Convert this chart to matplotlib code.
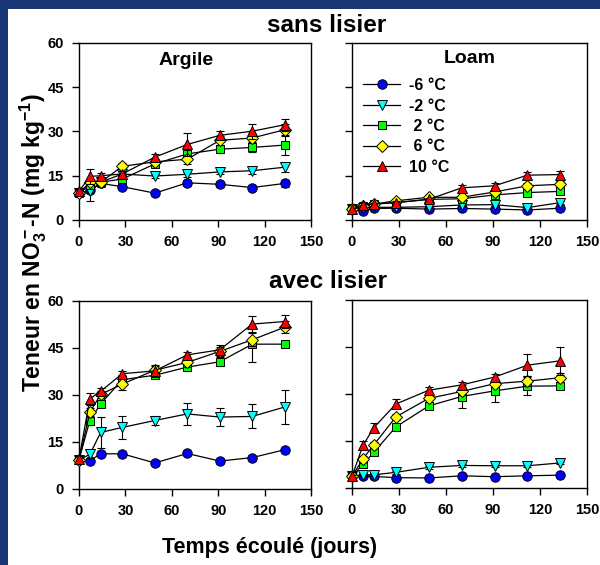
#!/usr/bin/env python3
"""Nitrate N content vs elapsed time, 4 panels (soil x slurry)."""

import matplotlib
matplotlib.use("Agg")
import matplotlib.pyplot as plt
from matplotlib.lines import Line2D
from matplotlib.patches import Rectangle

plt.rcParams["font.family"] = ["Liberation Sans", "DejaVu Sans"]
plt.rcParams["font.weight"] = "bold"
plt.rcParams["mathtext.fontset"] = "custom"
plt.rcParams["mathtext.rm"] = "Liberation Sans:bold"
plt.rcParams["mathtext.bf"] = "Liberation Sans:bold"
plt.rcParams["mathtext.it"] = "Liberation Sans:bold"
plt.rcParams["mathtext.default"] = "bf"

# ─── Data ────────────────────────────────────────────────────────────────────
days = [0, 7, 14, 28, 49, 70, 91, 112, 133]
temps = ["-6 °C", "-2 °C", " 2 °C", " 6 °C", "10 °C"]

# Argile, sans lisier
arg_sans = [
    [9.1, 10.0, 12.4, 11.3, 9.1, 12.6, 12.1, 11.0, 12.4],
    [9.1, 9.7, 12.8, 15.6, 14.9, 15.5, 16.3, 16.7, 17.9],
    [9.1, 12.0, 12.8, 13.9, 19.0, 22.4, 24.0, 24.6, 25.4],
    [9.1, 12.8, 12.8, 18.2, 19.7, 20.6, 27.0, 27.8, 30.6],
    [9.7, 14.8, 15.0, 15.6, 21.3, 25.6, 28.7, 30.1, 32.3],
]
arg_sans_err = [
    [0.5, 1.0, 0.8, 0.8, 0.6, 1.0, 0.8, 0.8, 1.2],
    [0.5, 3.3, 1.5, 1.0, 0.8, 0.8, 0.8, 1.0, 1.5],
    [0.5, 1.0, 1.0, 1.0, 1.0, 1.5, 1.0, 1.5, 3.5],
    [0.5, 1.0, 1.0, 1.0, 1.0, 1.5, 1.5, 1.5, 2.0],
    [0.5, 2.5, 1.0, 1.0, 1.0, 3.8, 1.5, 2.5, 2.0],
]

# Loam, sans lisier
loam_sans = [
    [3.6, 3.1, 3.9, 4.0, 3.7, 3.9, 3.7, 3.4, 4.0],
    [3.6, 4.0, 4.3, 4.3, 4.5, 5.1, 5.2, 4.2, 5.9],
    [3.6, 4.9, 5.4, 5.9, 7.0, 7.2, 8.5, 9.3, 9.7],
    [3.6, 4.8, 5.4, 6.5, 7.7, 7.7, 9.5, 11.6, 12.1],
    [3.6, 5.1, 5.4, 5.9, 7.0, 10.9, 11.6, 15.2, 15.4],
]
loam_sans_err = [
    [0.3, 0.3, 0.3, 0.3, 0.3, 0.3, 0.3, 0.3, 0.3],
    [0.3, 0.4, 0.4, 0.4, 0.4, 0.5, 0.5, 0.5, 0.5],
    [0.3, 0.5, 0.5, 0.5, 0.6, 0.8, 0.8, 1.2, 0.8],
    [0.3, 0.5, 0.5, 0.5, 0.6, 0.8, 0.8, 1.0, 1.0],
    [0.3, 0.6, 0.5, 0.6, 0.6, 1.0, 0.8, 1.0, 1.2],
]

# Argile, avec lisier
arg_avec = [
    [9.3, 9.0, 11.2, 11.2, 8.3, 11.3, 8.9, 10.0, 12.5],
    [9.3, 11.0, 18.0, 19.6, 21.8, 23.9, 22.9, 23.1, 26.1],
    [9.3, 21.8, 27.1, 34.8, 36.2, 38.8, 40.5, 46.1, 46.1],
    [9.3, 24.4, 30.1, 33.4, 37.8, 40.3, 43.8, 47.5, 51.5],
    [9.5, 28.7, 31.1, 36.7, 37.6, 42.7, 44.3, 52.5, 53.3],
]
arg_avec_err = [
    [0.5, 0.5, 0.5, 0.5, 0.5, 0.5, 0.5, 0.5, 0.5],
    [0.5, 1.0, 4.8, 3.7, 1.5, 3.5, 3.0, 3.8, 5.4],
    [0.5, 1.5, 1.0, 1.5, 1.0, 1.0, 1.5, 5.8, 1.0],
    [0.5, 1.5, 1.0, 2.0, 1.5, 1.5, 1.5, 2.0, 2.0],
    [0.5, 2.0, 1.0, 1.0, 2.0, 1.0, 1.5, 2.5, 2.0],
]

# Loam, avec lisier
loam_avec = [
    [3.7, 3.7, 3.7, 3.3, 3.2, 3.9, 3.6, 3.9, 4.1],
    [3.7, 4.2, 4.2, 5.0, 6.6, 7.2, 7.1, 7.1, 8.0],
    [3.7, 7.6, 11.4, 19.5, 26.2, 29.2, 31.0, 32.5, 32.6],
    [3.7, 9.3, 13.8, 22.7, 28.6, 30.8, 33.3, 34.1, 35.2],
    [3.7, 13.6, 19.3, 26.8, 31.2, 32.9, 35.4, 39.2, 40.6],
]
loam_avec_err = [
    [0.3, 0.3, 0.3, 0.3, 0.3, 0.3, 0.3, 0.3, 0.3],
    [0.3, 0.4, 0.4, 0.4, 0.4, 0.4, 0.4, 0.4, 0.4],
    [0.3, 1.0, 1.0, 1.0, 1.0, 3.7, 3.4, 2.8, 1.0],
    [0.3, 1.0, 1.0, 1.0, 1.0, 1.0, 1.0, 1.5, 1.5],
    [0.3, 1.5, 1.5, 1.5, 1.0, 1.0, 1.0, 3.6, 4.5],
]

x_ticks = [0, 30, 60, 90, 120, 150]
y_ticks = [0, 15, 30, 45, 60]

colors = ["#0000ff", "#00ffff", "#00ff00", "#ffff00", "#ff0000"]
markers = ["o", "v", "s", "D", "^"]
msizes = [6.8, 6.8, 6.2, 6.2, 6.8]


def draw_panel(ax, vals, errs, show_ylabels):
    for i in range(len(vals)):
        ax.errorbar(days, vals[i], yerr=errs[i], fmt="none", ecolor="black",
                    elinewidth=0.8, capsize=3, capthick=0.8, zorder=2 + i)
        ax.plot(days, vals[i], color="black", linewidth=0.9,
                marker=markers[i], markersize=msizes[i],
                markerfacecolor=colors[i], markeredgecolor="black",
                markeredgewidth=0.7, zorder=3 + i, clip_on=False)
    ax.set_xlim(0, 150)
    ax.set_ylim(0, 60)
    ax.set_xticks(x_ticks)
    ax.set_yticks(y_ticks)
    ax.tick_params(direction="out", length=5, width=1.0, labelsize=10.5)
    ax.tick_params(axis="x", pad=6)
    ax.tick_params(axis="y", pad=6)
    if not show_ylabels:
        ax.set_yticklabels([])
    for s in ax.spines.values():
        s.set_linewidth(1.0)


fig = plt.figure(figsize=(6, 5.65), dpi=100)
fig.patch.set_facecolor("#1a3775")
fig.patches.append(Rectangle((8 / 600, 0), 1, 1 - 9 / 565,
                             transform=fig.transFigure,
                             facecolor="white", edgecolor="none", zorder=-10))

ax_tl = fig.add_axes([79 / 600, 1 - 220 / 565, 232 / 600, 177 / 565])
ax_tr = fig.add_axes([352 / 600, 1 - 220 / 565, 235 / 600, 177 / 565])
ax_bl = fig.add_axes([79 / 600, 1 - 489 / 565, 232 / 600, 188.5 / 565])
ax_br = fig.add_axes([352 / 600, 1 - 488 / 565, 235 / 600, 188 / 565])

draw_panel(ax_tl, arg_sans, arg_sans_err, True)
draw_panel(ax_tr, loam_sans, loam_sans_err, False)
draw_panel(ax_bl, arg_avec, arg_avec_err, True)
draw_panel(ax_br, loam_avec, loam_avec_err, False)

ax_tl.text(0.46, 0.9, "Argile", transform=ax_tl.transAxes,
           ha="center", va="center", fontsize=14, fontweight="bold")
ax_tr.text(0.5, 0.91, "Loam", transform=ax_tr.transAxes,
           ha="center", va="center", fontsize=14, fontweight="bold")

handles = [Line2D([], [], color="black", linewidth=0.9, marker=markers[i],
                  markersize=msizes[i], markerfacecolor=colors[i],
                  markeredgecolor="black", markeredgewidth=0.7)
           for i in range(len(temps))]
ax_tr.legend(handles, temps, loc="upper left", bbox_to_anchor=(0.0, 0.865),
             frameon=False, fontsize=11.5, handlelength=2.3,
             handletextpad=0.55, labelspacing=0.34, borderaxespad=0.3)

fig.text(327 / 600, 1 - 26 / 565, "sans lisier", ha="center", va="center",
         fontsize=17.5, fontweight="bold")
fig.text(328 / 600, 1 - 282 / 565, "avec lisier", ha="center", va="center",
         fontsize=17.5, fontweight="bold")
fig.text(33 / 600, 1 - 242 / 565,
         "Teneur en NO$_3^-$-N (mg kg$^{-1}$)", rotation=90,
         ha="center", va="center", fontsize=16.5, fontweight="bold")
fig.text(270 / 600, 1 - 548 / 565, "Temps écoulé (jours)",
         ha="center", va="center", fontsize=15.5, fontweight="bold")

fig.savefig("out.png", dpi=100, facecolor=fig.get_facecolor())
print("Saved: out.png")
